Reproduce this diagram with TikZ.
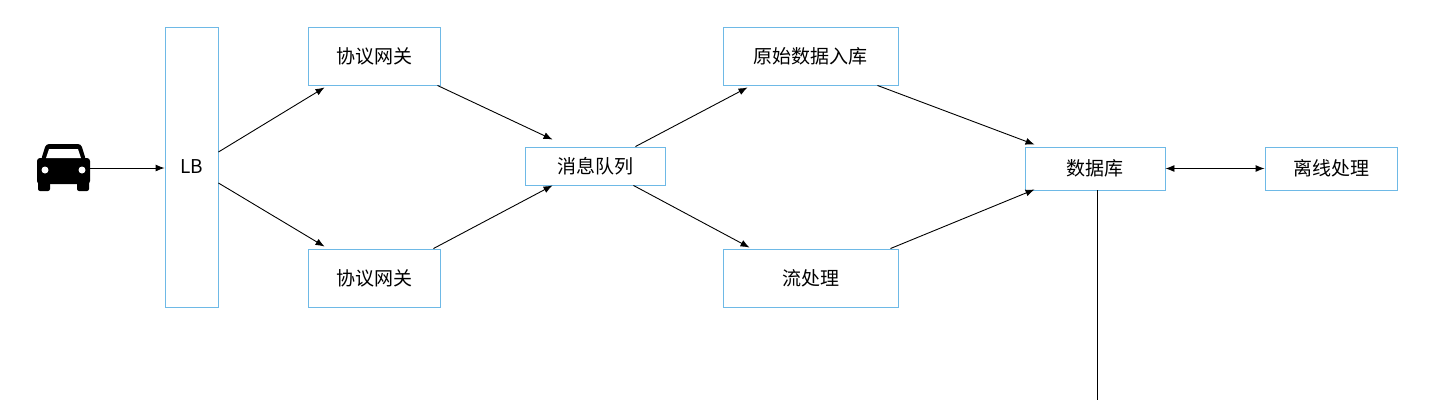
\documentclass[tikz,border=0pt]{standalone}
\usepackage{fontspec}
\newfontfamily\cjk{Noto Sans CJK SC}
\usetikzlibrary{calc,arrows.meta}
\definecolor{bx}{RGB}{110,185,230}
\begin{document}
\begin{tikzpicture}[x=1pt,y=-1pt,
 box/.style={draw=bx,line width=0.9pt,fill=white,inner sep=0pt,font=\cjk\fontsize{19}{22}\selectfont},
 arr/.style={-{Latex[length=9pt,width=7pt]},line width=0.9pt}]
\useasboundingbox (0,0) rectangle (1446,400);
\node[box,minimum width=53,minimum height=280] (lb) at (191.5,167) {LB};
\node[box,minimum width=132,minimum height=58] (g1) at (374,56) {协议网关};
\node[box,minimum width=132,minimum height=58] (g2) at (374,278) {协议网关};
\node[box,minimum width=140,minimum height=38] (mq) at (595,166) {消息队列};
\node[box,minimum width=175,minimum height=58] (raw) at (810.5,56) {原始数据入库};
\node[box,minimum width=175,minimum height=58] (st) at (810.5,278) {流处理};
\node[box,minimum width=140,minimum height=43] (db) at (1095,168.5) {数据库};
\node[box,minimum width=132,minimum height=43] (off) at (1331,168.5) {离线处理};
% car
\begin{scope}
\fill[black,rounded corners=3] (37,158) rectangle (90,184);
\fill[black,rounded corners=3] (46,144) -- (81,144) -- (86,160) -- (41,160) -- cycle;
\fill[white] (49,149) -- (78,149) -- (81,158) -- (46,158) -- cycle;
\fill[black,rounded corners=2] (38,180) rectangle (50,191);
\fill[black,rounded corners=2] (77,180) rectangle (89,191);
\fill[white] (45,170) circle (3.5);
\fill[white] (82,170) circle (3.5);
\end{scope}
\coordinate (car) at (90,168);
\draw[arr] (car) -- (lb.west|-car);
\draw[arr] ($(lb.east)+(0,-15)$) -- ($(g1.south west)+(17,2)$);
\draw[arr] ($(lb.east)+(0,16)$) -- ($(g2.north west)+(17,-2)$);
\draw[arr] ($(g1.south east)+(-3,0)$) -- ($(mq.north west)+(28,-7)$);
\draw[arr] ($(g2.north east)+(-7,0)$) -- ($(mq.south west)+(28,0)$);
\draw[arr] ($(mq.north east)+(-30,0)$) -- ($(raw.south west)+(25,2)$);
\draw[arr] ($(mq.south east)+(-32,0)$) -- ($(st.north west)+(27,-1)$);
\draw[arr] ($(raw.south east)+(-21,0)$) -- ($(db.north west)+(10,-2)$);
\draw[arr] ($(st.north east)+(-8,0)$) -- ($(db.south west)+(10,-1)$);
\draw[{Latex[length=9pt,width=7pt]}-{Latex[length=9pt,width=7pt]},line width=0.9pt] (db) -- (off);
\coordinate (end) at (1097,400);
\draw[line width=0.9pt] (db.south-|end) -- (end);
\end{tikzpicture}
\end{document}
